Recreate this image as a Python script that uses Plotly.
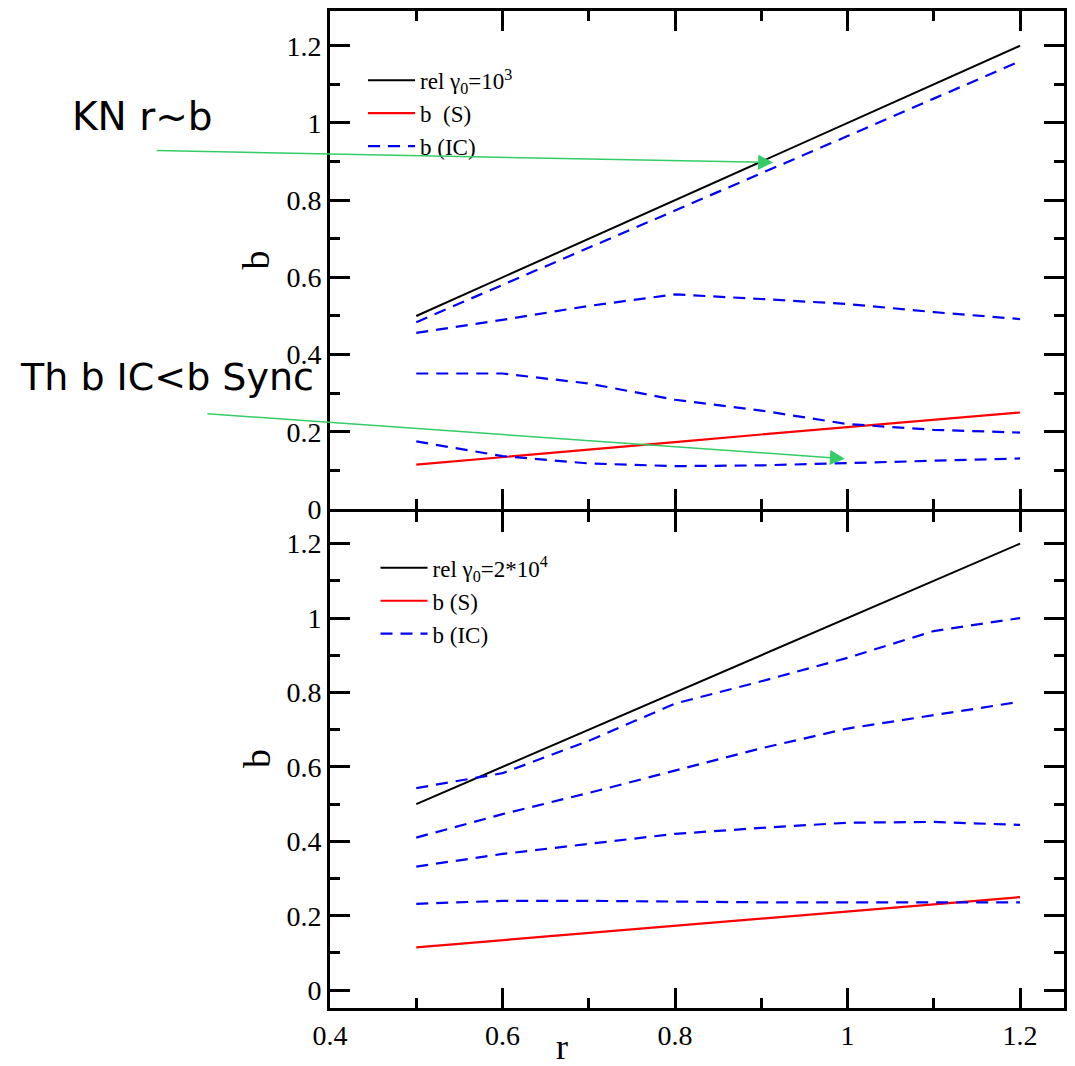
import plotly.graph_objects as go

# ---------------- data ----------------
r_vals = [0.5, 0.6, 0.7, 0.8, 0.9, 1.0, 1.1, 1.2]

# top panel: rel gamma0 = 10^3
top_rel = [0.5, 0.6, 0.7, 0.8, 0.9, 1.0, 1.1, 1.2]
top_S = [0.115, 0.134, 0.153, 0.173, 0.193, 0.212, 0.231, 0.25]
top_IC1 = [0.484, 0.58, 0.676, 0.772, 0.868, 0.966, 1.063, 1.16]
top_IC2 = [0.456, 0.49, 0.526, 0.556, 0.544, 0.531, 0.51, 0.492]
top_IC3 = [0.351, 0.351, 0.325, 0.283, 0.255, 0.22, 0.205, 0.198]
top_IC4 = [0.175, 0.137, 0.118, 0.111, 0.113, 0.119, 0.124, 0.131]

# bottom panel: rel gamma0 = 2*10^4
bot_rel = [0.5, 0.6, 0.7, 0.8, 0.9, 1.0, 1.1, 1.2]
bot_S = [0.115, 0.134, 0.153, 0.173, 0.193, 0.212, 0.231, 0.25]
bot_IC1 = [0.543, 0.583, 0.67, 0.77, 0.83, 0.893, 0.965, 1.0]
bot_IC2 = [0.41, 0.473, 0.53, 0.59, 0.65, 0.703, 0.74, 0.775]
bot_IC3 = [0.332, 0.366, 0.393, 0.42, 0.436, 0.45, 0.452, 0.444]
bot_IC4 = [0.232, 0.24, 0.24, 0.237, 0.236, 0.236, 0.236, 0.236]

top_names = ["rel γ<sub>0</sub>=10<sup>3</sup>", "b  (S)", "b (IC)"]
bot_names = ["rel γ<sub>0</sub>=2*10<sup>4</sup>", "b (S)", "b (IC)"]

x_ticks = [0.4, 0.6, 0.8, 1.0, 1.2]
x_ticklabels = ["0.4", "0.6", "0.8", "1", "1.2"]
y_ticks = [0, 0.2, 0.4, 0.6, 0.8, 1.0, 1.2]
y_ticklabels = ["0", "0.2", "0.4", "0.6", "0.8", "1", "1.2"]

# ---------------- figure ----------------
SERIF = "Liberation Serif"
BLUE_DASH = "12px,8px"

fig = go.Figure()


def add_panel(xa, ya, leg, rel, s, ics, names):
    fig.add_trace(go.Scatter(x=r_vals, y=rel, mode="lines", name=names[0],
                             line=dict(color="black", width=2),
                             xaxis=xa, yaxis=ya, legend=leg))
    fig.add_trace(go.Scatter(x=r_vals, y=s, mode="lines", name=names[1],
                             line=dict(color="#ff0000", width=2.2),
                             xaxis=xa, yaxis=ya, legend=leg))
    for i, ic in enumerate(ics):
        fig.add_trace(go.Scatter(x=r_vals, y=ic, mode="lines", name=names[2],
                                 showlegend=(i == 0),
                                 line=dict(color="#0000ff", width=2.2, dash=BLUE_DASH),
                                 xaxis=xa, yaxis=ya, legend=leg))


add_panel("x", "y", "legend", top_rel, top_S,
          [top_IC1, top_IC2, top_IC3, top_IC4], top_names)
add_panel("x2", "y2", "legend2", bot_rel, bot_S,
          [bot_IC1, bot_IC2, bot_IC3, bot_IC4], bot_names)

axis_common = dict(showline=True, linewidth=3, linecolor="black", mirror="ticks",
                   ticks="inside", ticklen=20, tickwidth=3, tickcolor="black",
                   showgrid=False, zeroline=False,
                   tickfont=dict(family=SERIF, size=28, color="black"))

x_common = dict(axis_common, range=[0.4, 1.251], tickmode="array",
                tickvals=x_ticks, ticktext=x_ticklabels,
                minor=dict(ticks="inside", ticklen=10, tickwidth=3,
                           tickcolor="black", dtick=0.1, tick0=0.4, showgrid=False))
y_common = dict(axis_common, tickmode="array", tickvals=y_ticks, ticktext=y_ticklabels,
                minor=dict(ticks="inside", ticklen=10, tickwidth=3,
                           tickcolor="black", dtick=0.1, tick0=0, showgrid=False))

fig.update_layout(
    width=1075, height=1066,
    margin=dict(l=330, r=8, t=8, b=58),
    paper_bgcolor="white", plot_bgcolor="white",
    xaxis=dict(x_common, anchor="y", showticklabels=False),
    yaxis=dict(y_common, domain=[0.5005, 1], range=[0, 1.29], anchor="x"),
    xaxis2=dict(x_common, anchor="y2", matches="x"),
    yaxis2=dict(y_common, domain=[0, 0.4975], range=[-0.048, 1.285], anchor="x2"),
    legend=dict(x=0.045, y=0.952, xanchor="left", yanchor="top",
                bgcolor="rgba(0,0,0,0)", itemwidth=47, tracegroupgap=0,
                font=dict(family=SERIF, size=23, color="black")),
    legend2=dict(x=0.062, y=0.463, xanchor="left", yanchor="top",
                 bgcolor="rgba(0,0,0,0)", itemwidth=47, tracegroupgap=0,
                 font=dict(family=SERIF, size=23, color="black")),
    showlegend=True,
)

W_PLOT = 737.0
H_PLOT = 1000.0


def px2paper(px, py):
    return (px - 330) / W_PLOT, (1008 - py) / H_PLOT


annotations = []
# axis titles
for (px, py) in [(256, 258), (256, 758)]:
    ax_, ay_ = px2paper(px, py)
    annotations.append(dict(text="b", x=ax_, y=ay_, xref="paper", yref="paper",
                            xanchor="center", yanchor="middle",
                            showarrow=False, textangle=-90,
                            font=dict(family=SERIF, size=38, color="black")))
rx, ry = px2paper(563, 1047)
annotations.append(dict(text="r", x=rx, y=ry, xref="paper", yref="paper",
                        xanchor="center", yanchor="middle",
                        showarrow=False, font=dict(family=SERIF, size=36, color="black")))

# commentary text
kx, ky = px2paper(142, 114)
annotations.append(dict(text="KN r~b", x=kx, y=ky, xref="paper", yref="paper",
                        xanchor="center", yanchor="middle",
                        showarrow=False, font=dict(family="DejaVu Sans", size=39, color="black")))
tx, ty = px2paper(166, 375)
annotations.append(dict(text="Th b IC&lt;b Sync", x=tx, y=ty, xref="paper", yref="paper",
                        xanchor="center", yanchor="middle",
                        showarrow=False, font=dict(family="DejaVu Sans", size=38, color="black")))

# green arrows
GREEN = "#33cc66"
for (tip, tail) in [((775, 160), (157, 148)), ((847, 457), (208, 412))]:
    ax_, ay_ = px2paper(*tip)
    annotations.append(dict(text="", x=ax_, y=ay_, xref="paper", yref="paper",
                            showarrow=True, arrowhead=2, arrowsize=2, arrowwidth=1.5,
                            arrowcolor=GREEN, ax=tail[0] - tip[0], ay=tail[1] - tip[1],
                            standoff=0, startstandoff=0))

fig.update_layout(annotations=annotations)

fig.write_html("out.html")
